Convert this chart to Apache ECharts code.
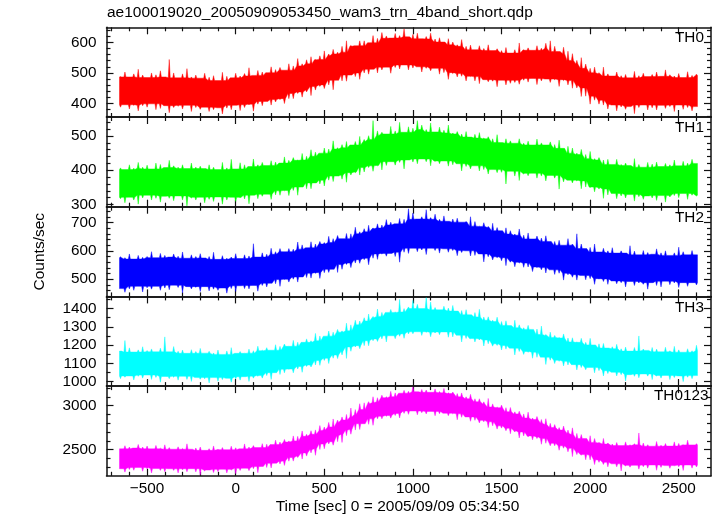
<!DOCTYPE html>
<html><head><meta charset="utf-8">
<script src="https://cdn.jsdelivr.net/npm/echarts@6.0.0/dist/echarts.min.js"></script>
<style>html,body{margin:0;padding:0;background:#fff}#c{width:717px;height:516px}</style>
</head><body><div id="c"></div>
<script>
// ---- data (upper / lower envelope of each light curve, 25 s bins) ----
const times = [-650,-625,-600,-575,-550,-525,-500,-475,-450,-425,
 -400,-375,-350,-325,-300,-275,-250,-225,-200,-175,
 -150,-125,-100,-75,-50,-25,0,25,50,75,
 100,125,150,175,200,225,250,275,300,325,
 350,375,400,425,450,475,500,525,550,575,
 600,625,650,675,700,725,750,775,800,825,
 850,875,900,925,950,975,1000,1025,1050,1075,
 1100,1125,1150,1175,1200,1225,1250,1275,1300,1325,
 1350,1375,1400,1425,1450,1475,1500,1525,1550,1575,
 1600,1625,1650,1675,1700,1725,1750,1775,1800,1825,
 1850,1875,1900,1925,1950,1975,2000,2025,2050,2075,
 2100,2125,2150,2175,2200,2225,2250,2275,2300,2325,
 2350,2375,2400,2425,2450,2475,2500,2525,2550,2575,
 2600];

const th0Hi = [488,503,487,497,512,493,485,500,494,507,
 487,544,500,484,497,514,487,493,483,499,
 486,491,475,502,489,484,499,490,498,517,
 492,508,503,501,520,511,518,509,530,523,
 547,530,543,553,544,556,572,562,577,568,
 587,605,590,589,605,605,599,622,613,632,
 621,614,629,622,644,618,626,630,612,619,
 630,611,615,601,612,601,592,609,587,591,
 576,589,580,592,573,579,573,583,565,576,
 598,576,582,574,589,581,597,605,587,570,
 584,571,563,541,550,529,515,519,501,519,
 497,490,503,491,495,484,505,491,499,488,
 495,503,489,510,494,490,498,485,504,492,
 496];
const th0Lo = [388,396,382,394,376,393,388,399,380,384,
 393,370,387,391,382,394,374,387,381,388,
 374,380,386,366,385,380,394,377,387,396,
 375,398,393,407,395,405,413,400,416,416,
 433,421,438,426,444,456,449,461,445,476,
 474,473,493,488,479,500,496,512,500,510,
 519,499,518,513,526,510,516,520,503,515,
 507,515,496,501,479,498,487,489,474,488,
 474,465,478,471,473,455,476,461,466,469,
 463,476,470,482,462,474,480,469,478,456,
 475,461,450,451,423,424,398,411,398,395,
 382,395,376,389,381,390,367,387,395,379,
 386,379,394,384,390,374,395,381,387,376,
 390];

const th1Hi = [407,402,416,406,423,409,415,404,421,417,
 408,429,413,409,416,405,421,409,412,405,
 416,409,402,423,407,432,404,422,416,411,
 433,416,423,414,428,424,421,439,429,437,
 430,449,441,460,453,450,465,462,486,466,
 475,484,474,484,499,490,501,545,515,511,
 506,528,515,540,511,527,523,545,532,519,
 538,512,526,517,532,509,513,506,513,497,
 505,510,494,498,492,504,481,492,486,479,
 492,479,485,474,491,480,474,483,475,488,
 464,470,465,450,461,446,455,434,437,430,
 432,417,432,417,421,414,434,417,409,423,
 418,424,411,420,416,430,413,426,421,432,
 420];
const th1Lo = [317,305,321,313,301,319,327,313,318,307,
 324,318,311,325,313,296,319,313,321,305,
 315,309,322,301,313,321,309,320,316,302,
 327,317,324,330,315,328,327,340,326,341,
 327,351,346,346,363,360,354,371,367,383,
 374,365,386,393,386,395,408,397,413,401,
 414,425,415,423,404,430,424,419,433,425,
 413,426,419,427,412,416,419,398,411,404,
 413,398,402,389,402,393,394,360,397,383,
 370,389,384,391,377,383,369,385,377,345,
 366,371,363,369,346,351,350,337,345,318,
 328,332,317,325,319,329,310,323,315,325,
 319,312,326,307,322,326,320,332,315,327,
 325];

const th2Hi = [579,576,589,571,584,577,580,597,576,591,
 584,578,589,581,596,574,586,580,590,575,
 580,595,570,583,574,578,590,573,586,582,
 625,578,593,588,609,597,608,597,608,606,
 631,621,611,632,624,633,629,651,643,654,
 643,661,660,683,667,678,690,680,695,691,
 710,701,695,714,711,748,733,712,720,745,
 717,729,711,723,704,712,715,701,703,720,
 703,687,699,686,697,682,671,681,671,659,
 677,655,663,642,652,645,653,633,633,637,
 620,643,624,660,624,608,612,624,596,609,
 600,611,592,600,592,618,599,586,601,594,
 588,607,593,600,584,593,613,597,586,601,
 586];
const th2Lo = [467,454,466,461,475,455,470,465,475,461,
 469,463,479,471,452,474,466,472,457,474,
 459,465,461,469,451,467,457,477,467,466,
 478,458,478,473,486,484,475,499,490,500,
 490,508,506,504,521,503,523,524,535,524,
 535,552,541,557,556,569,551,574,570,589,
 581,591,580,560,595,591,609,597,603,587,
 609,601,592,607,595,601,583,594,600,582,
 584,589,561,579,568,576,565,548,560,544,
 557,542,543,527,541,533,522,533,517,521,
 497,516,507,497,513,498,502,482,501,492,
 482,494,484,488,473,492,478,487,482,465,
 488,478,473,493,481,487,471,488,475,488,
 480];

const th3Hi = [1167,1225,1185,1162,1174,1191,1170,1179,1163,1183,
 1245,1163,1192,1166,1173,1155,1175,1165,1182,1156,
 1166,1157,1173,1149,1168,1186,1155,1165,1156,1178,
 1169,1194,1172,1186,1172,1202,1193,1206,1194,1226,
 1216,1215,1234,1224,1264,1250,1249,1277,1271,1286,
 1278,1320,1311,1336,1332,1350,1370,1357,1397,1379,
 1379,1395,1381,1450,1400,1409,1445,1423,1400,1460,
 1436,1406,1393,1413,1403,1417,1386,1389,1394,1366,
 1378,1396,1354,1355,1336,1353,1329,1333,1307,1336,
 1311,1295,1308,1286,1288,1304,1258,1271,1253,1242,
 1261,1239,1240,1217,1237,1215,1237,1201,1207,1209,
 1184,1191,1204,1180,1189,1167,1187,1250,1178,1171,
 1187,1178,1163,1188,1169,1193,1174,1161,1180,1169,
 1199];
const th3Lo = [1016,1024,1031,1009,1029,1019,1036,1012,1023,997,
 1028,1016,1024,1008,1029,1012,1001,1022,1013,1016,
 993,1022,1002,1011,1018,997,1015,1008,1027,1001,
 1019,1030,1019,1033,1012,1049,1039,1048,1068,1048,
 1069,1051,1083,1080,1091,1089,1116,1099,1128,1126,
 1146,1127,1166,1190,1180,1197,1196,1224,1220,1234,
 1217,1251,1235,1248,1237,1261,1262,1273,1253,1270,
 1246,1266,1257,1272,1243,1245,1254,1217,1236,1235,
 1217,1228,1195,1207,1194,1198,1173,1178,1183,1146,
 1165,1149,1161,1128,1133,1134,1094,1117,1099,1111,
 1086,1091,1093,1064,1077,1065,1077,1048,1060,1031,
 1044,1051,1031,1038,1004,1038,1029,1021,1042,1030,
 1011,1031,1019,1034,1011,1022,1031,1000,1024,1016,
 1033];

const th0123Hi = [2510,2546,2530,2519,2560,2530,2542,2510,2549,2518,
 2556,2524,2506,2533,2515,2567,2506,2520,2531,2493,
 2512,2543,2505,2525,2501,2540,2522,2510,2566,2530,
 2547,2524,2569,2563,2558,2609,2587,2617,2600,2657,
 2652,2713,2675,2716,2725,2774,2758,2810,2849,2836,
 2872,2900,2973,2955,3022,3032,3045,3101,3090,3119,
 3101,3162,3145,3141,3174,3163,3213,3158,3184,3177,
 3151,3190,3160,3195,3145,3154,3137,3144,3100,3128,
 3078,3078,3043,3082,3020,2984,3006,2977,2979,2930,
 2937,2906,2926,2859,2877,2843,2852,2799,2785,2751,
 2769,2723,2748,2685,2672,2628,2659,2627,2583,2628,
 2577,2564,2582,2547,2589,2556,2567,2690,2576,2557,
 2540,2593,2550,2570,2541,2589,2572,2556,2608,2555,
 2569];
const th0123Lo = [2285,2246,2276,2267,2298,2256,2285,2236,2287,2266,
 2251,2284,2266,2237,2272,2250,2285,2249,2215,2260,
 2270,2241,2253,2278,2237,2269,2229,2265,2290,2263,
 2285,2240,2310,2299,2294,2347,2338,2322,2370,2371,
 2412,2394,2428,2464,2437,2503,2511,2565,2551,2591,
 2582,2660,2676,2723,2729,2795,2788,2777,2850,2850,
 2880,2858,2888,2860,2912,2901,2939,2896,2920,2906,
 2935,2885,2908,2914,2886,2907,2840,2868,2872,2823,
 2833,2804,2817,2751,2771,2734,2745,2715,2681,2702,
 2634,2657,2648,2612,2627,2562,2573,2545,2545,2494,
 2517,2476,2422,2445,2439,2386,2385,2332,2357,2333,
 2306,2340,2306,2259,2317,2302,2323,2280,2308,2291,
 2327,2267,2300,2320,2289,2318,2306,2265,2327,2291,
 2305];

const panelNames = ['TH0', 'TH1', 'TH2', 'TH3', 'TH0123'];
const panelHi = [th0Hi, th1Hi, th2Hi, th3Hi, th0123Hi];
const panelLo = [th0Lo, th1Lo, th2Lo, th3Lo, th0123Lo];

// axis ranges and tick values
const xMin = -729, xMax = 2682;
const xMajorTicks = [-500, 0, 500, 1000, 1500, 2000, 2500];
const xMinorTicks = [-700,-600,-400,-300,-200,-100,100,200,300,400,600,700,800,900,1100,1200,1300,1400,1600,1700,1800,1900,2100,2200,2300,2400,2600];
const yMin = [356, 293.6, 439.6, 975.5, 2204.5];
const yMax = [649.2, 555.6, 755.4, 1466.6, 3221.6];
const yMajorTicks = [
  [400, 500, 600],
  [300, 400, 500],
  [500, 600, 700],
  [1000, 1100, 1200, 1300, 1400],
  [2500, 3000]
];
const yMinorTicks = [
  [360, 380, 420, 440, 460, 480, 520, 540, 560, 580, 620, 640],
  [320, 340, 360, 380, 420, 440, 460, 480, 520, 540],
  [440, 460, 480, 520, 540, 560, 580, 620, 640, 660, 680, 720, 740],
  [1050, 1150, 1250, 1350, 1450],
  [2300, 2400, 2600, 2700, 2800, 2900, 3100, 3200]
];
const titleText = 'ae100019020_20050909053450_wam3_trn_4band_short.qdp';
const xTitleText = 'Time [sec] 0 = 2005/09/09 05:34:50';
const yTitleText = 'Counts/sec';

// ---- styling / layout ----
const panelColors = ['#ff0000', '#00ff00', '#0000ff', '#00ffff', '#ff00ff'];
const FONT = '"Liberation Sans", Arial, Helvetica, sans-serif';
const TICK_FS = 15.3;
const GRID_LEFT = 106.5, GRID_W = 604.5, GRID_H = 89.7;
const gridTops = [27.3, 117.0, 206.7, 296.4, 386.1];
const nameX = [675, 675, 675, 675, 654];
const nameY = [37.5, 127.5, 217.5, 307.5, 396.2];
const SPIKE_HALF = 1.0;   // half base width of a noise spike, px
const CORE_REACH = 2;     // neighbours used for the dense core edge
const FRAME = { color: '#111', width: 1.5 };

function fmt(v) { return v < 0 ? '\u2212' + Math.abs(v) : String(v); }

const grid = [], xAxis = [], yAxis = [], series = [], graphic = [];

function mkAxis(kind, g, pos, min, max, ticks, len, withLine, labels) {
  return {
    gridIndex: g, type: 'value', position: pos, min: min, max: max,
    axisLine: { show: withLine, onZero: false, lineStyle: FRAME },
    axisTick: { show: true, inside: true, length: len, customValues: ticks, lineStyle: { color: '#111', width: 1.2 } },
    axisLabel: labels ? {
      show: true, customValues: ticks, formatter: fmt, margin: kind === 'x' ? 5 : 10,
      fontSize: TICK_FS, fontFamily: FONT, color: '#000',
      showMinLabel: true, showMaxLabel: true
    } : { show: false },
    splitLine: { show: false }, minorTick: { show: false }
  };
}

panelNames.forEach(function (name, g) {
  grid.push({ left: GRID_LEFT, top: gridTops[g], width: GRID_W, height: GRID_H, containLabel: false, outerBoundsMode: 'none' });
  xAxis.push(mkAxis('x', g, 'bottom', xMin, xMax, xMajorTicks, 7, true, g === 4));
  xAxis.push(mkAxis('x', g, 'bottom', xMin, xMax, xMinorTicks, 4, false, false));
  xAxis.push(mkAxis('x', g, 'top', xMin, xMax, xMajorTicks, 7, true, false));
  xAxis.push(mkAxis('x', g, 'top', xMin, xMax, xMinorTicks, 4, false, false));
  yAxis.push(mkAxis('y', g, 'left', yMin[g], yMax[g], yMajorTicks[g], 7, true, true));
  yAxis.push(mkAxis('y', g, 'left', yMin[g], yMax[g], yMinorTicks[g], 4, false, false));
  yAxis.push(mkAxis('y', g, 'right', yMin[g], yMax[g], yMajorTicks[g], 7, true, false));
  yAxis.push(mkAxis('y', g, 'right', yMin[g], yMax[g], yMinorTicks[g], 4, false, false));

  const hi = panelHi[g], lo = panelLo[g], color = panelColors[g];
  series.push({
    type: 'custom', name: name, xAxisIndex: g * 4, yAxisIndex: g * 4,
    clip: true, silent: true, animation: false,
    data: times.map(function (t, i) { return [t, lo[i], hi[i]]; }),
    encode: { x: 0, y: [1, 2] },
    renderItem: function (params, api) {
      if (params.dataIndex !== 0) return null;
      const n = times.length, up = [], dn = [];
      for (let i = 0; i < n; i++) {
        // dense core edge = neighbouring envelope extreme; each bin's own extreme drawn as a thin spike
        let coreHi = hi[i], coreLo = lo[i];
        for (let k = Math.max(0, i - CORE_REACH); k <= Math.min(n - 1, i + CORE_REACH); k++) {
          coreHi = Math.min(coreHi, hi[k]);
          coreLo = Math.max(coreLo, lo[k]);
        }
        const pHi = api.coord([times[i], hi[i]]), pCh = api.coord([times[i], coreHi]);
        const pLo = api.coord([times[i], lo[i]]), pCl = api.coord([times[i], coreLo]);
        up.push([pHi[0] - SPIKE_HALF, pCh[1]], [pHi[0], pHi[1]], [pHi[0] + SPIKE_HALF, pCh[1]]);
        dn.push([pLo[0] - SPIKE_HALF, pCl[1]], [pLo[0], pLo[1]], [pLo[0] + SPIKE_HALF, pCl[1]]);
      }
      const pts = up.concat(dn.reverse());
      return { type: 'polygon', shape: { points: pts },
        style: { fill: color, stroke: color, lineWidth: 1, strokeOpacity: 0.45 } };
    }
  });

  graphic.push({ type: 'text', x: nameX[g], y: nameY[g], z: 100,
    style: { text: name, fontSize: TICK_FS, fontFamily: FONT, fill: '#000', align: 'left', verticalAlign: 'middle' } });
});

graphic.push({ type: 'text', x: 107, y: 13,
  style: { text: titleText, fontSize: 15.5, fontFamily: FONT, fill: '#000', align: 'left', verticalAlign: 'middle' } });
graphic.push({ type: 'text', x: 397.5, y: 506.7,
  style: { text: xTitleText, fontSize: 15.5, fontFamily: FONT, fill: '#000', align: 'center', verticalAlign: 'middle' } });
graphic.push({ type: 'text', x: 40, y: 251.7, rotation: Math.PI / 2,
  style: { text: yTitleText, fontSize: 15.5, fontFamily: FONT, fill: '#000', align: 'center', verticalAlign: 'middle' } });

const chart = echarts.init(document.getElementById('c'), null, { renderer: 'canvas' });
chart.setOption({
  animation: false,
  backgroundColor: '#fff',
  grid: grid, xAxis: xAxis, yAxis: yAxis, series: series, graphic: graphic
});
</script>
</body></html>
